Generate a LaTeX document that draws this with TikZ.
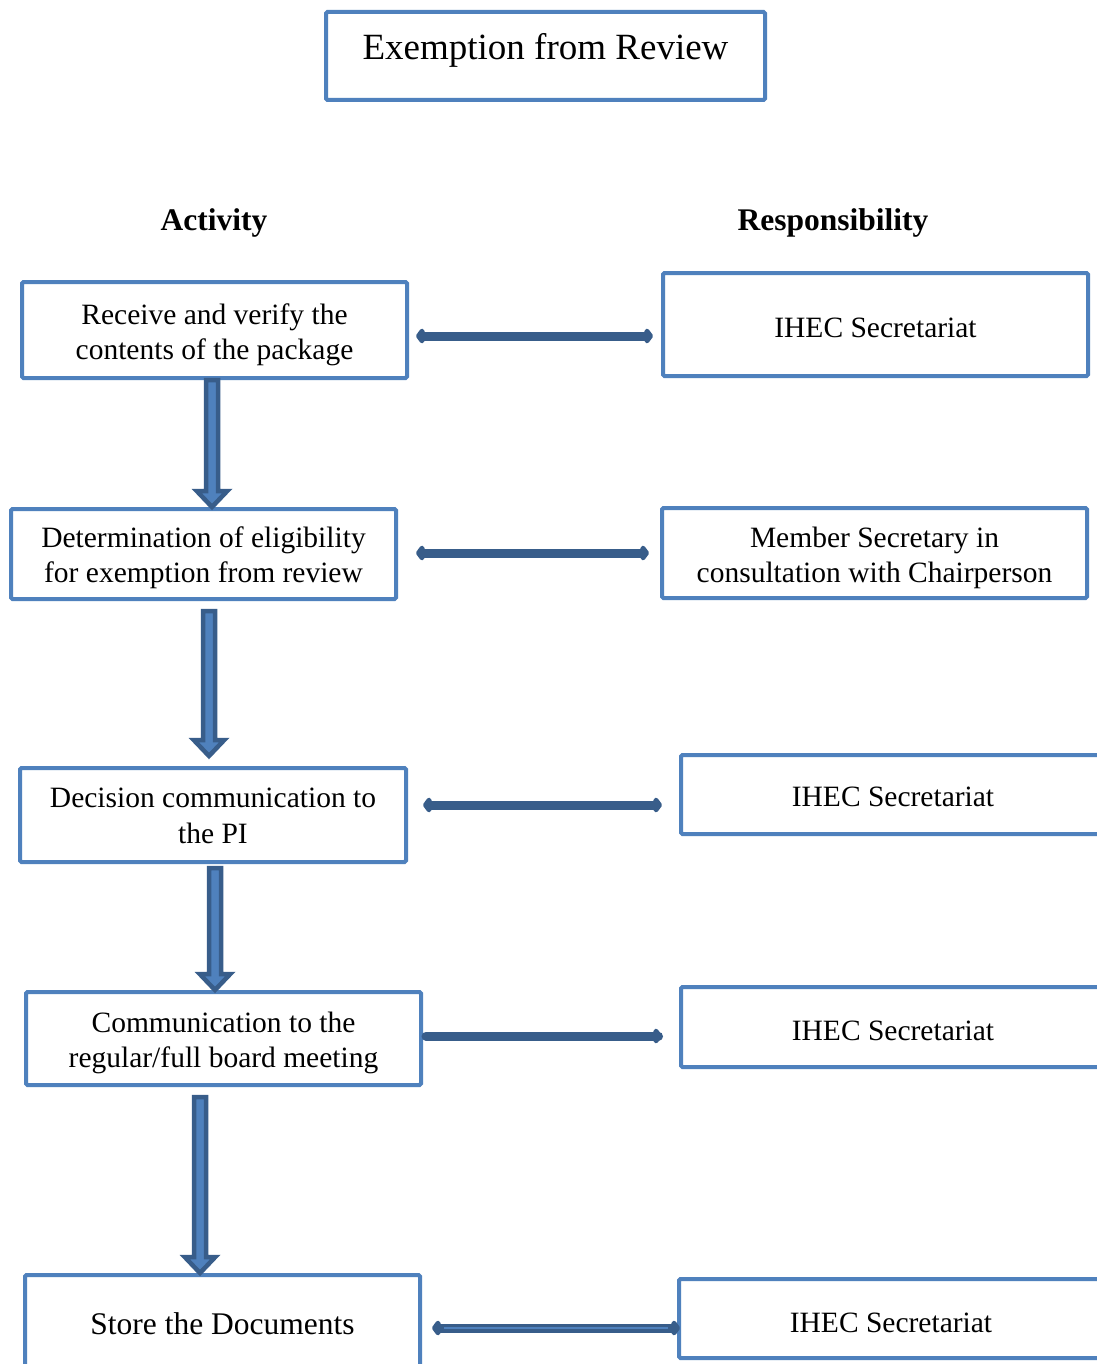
\documentclass[tikz,border=0pt]{standalone}
\usepackage{fontspec}
\setmainfont{Liberation Serif}
\usetikzlibrary{arrows.meta,calc}

\definecolor{boxblue}{HTML}{4F81BD}
\definecolor{arrowblue}{HTML}{385D8A}

\begin{document}
\begin{tikzpicture}[x=1pt,y=-1pt,
  box/.style={draw=boxblue, line width=4pt, rounded corners=1.5pt, fill=white, inner sep=0pt},
  txt/.style={align=center, inner sep=0pt, font=\fontsize{29.5}{35.4}\selectfont},
  titlebox/.style={box, minimum width=439pt, minimum height=88pt},
  heading/.style={font=\bfseries\fontsize{31.5}{38}\selectfont},
  tip/.tip={Kite[length=11pt,width=19pt,inset=4pt,round]},
  link/.style={draw=arrowblue, line width=9pt},
  blockdown/.style={draw=arrowblue, fill=boxblue, line width=4.5pt, line join=miter,
    to path={let \p1=(\tikztostart), \p2=(\tikztotarget) in
      (\x1-6pt,\y1) -- (\x1-6pt,\y2+16pt) -- (\x1-15.25pt,\y2+16pt) -- (\x1,\y2)
      -- (\x1+15.25pt,\y2+16pt) -- (\x1+6pt,\y2+16pt) -- (\x1+6pt,\y1) -- cycle}}
]
\useasboundingbox[fill=white] (0,0) rectangle (1096,1364);

% title
\node[titlebox, label={[font=\fontsize{37}{44}\selectfont, yshift=6pt]center:Exemption from Review}]
  (title) at (545.5,56) {};

% column headings
\node[heading] (hact) at (214,223) {Activity};
\node[heading] (hres) at (833,223) {Responsibility};

% activities
\node[box, minimum width=385pt, minimum height=96pt,
  label={[txt, yshift=-4.5pt]center:{Receive and verify the\\contents of the package}}]
  (a1) at (214.5,330) {};
\node[box, minimum width=385pt, minimum height=90pt,
  label={[txt, yshift=-4pt]center:{Determination of eligibility\\for exemption from review}}]
  (a2) at (203.5,554) {};
\node[box, minimum width=386pt, minimum height=94pt,
  label={[txt, yshift=-1pt]center:{Decision communication to\\the PI}}]
  (a3) at (213,815) {};
\node[box, minimum width=395pt, minimum height=93pt,
  label={[txt, yshift=-4.5pt]center:{Communication to the\\regular/full board meeting}}]
  (a4) at (223.5,1038.5) {};
\node[box, minimum width=395pt, minimum height=96pt,
  label={[txt, font=\fontsize{31.5}{38}\selectfont, yshift=-1pt]center:Store the Documents}]
  (a5) at (222.5,1323) {};

% responsibilities
\node[box, minimum width=425pt, minimum height=103pt,
  label={[txt, yshift=-3pt]center:IHEC Secretariat}] (r1) at (875.5,324.5) {};
\node[box, minimum width=425pt, minimum height=90pt,
  label={[txt, yshift=-5pt]center:{Member Secretary in\\consultation with Chairperson}}]
  (r2) at (874.5,553) {};
\node[box, minimum width=424pt, minimum height=79pt,
  label={[txt, yshift=-2pt]center:IHEC Secretariat}] (r3) at (893,794.5) {};
\node[box, minimum width=424pt, minimum height=80pt,
  label={[txt, yshift=-4pt]center:IHEC Secretariat}] (r4) at (893,1027) {};
\node[box, minimum width=424pt, minimum height=79pt,
  label={[txt, yshift=-4pt]center:IHEC Secretariat}] (r5) at (891,1318.5) {};

% flow between activities
\path[blockdown] ([xshift=-2.5pt]a1.south) to ([xshift=-2.5pt]a2.north);
\path[blockdown] ([xshift=5.5pt,yshift=-10pt]a2.south) to ([xshift=5.5pt,yshift=10pt]a3.north);
\path[blockdown] ([xshift=2pt,yshift=-4pt]a3.south) to ([xshift=2pt]a4.north);
\path[blockdown] ([xshift=-23.5pt,yshift=-10pt]a4.south) to ([xshift=-23.5pt]a5.north);

% activity <-> responsibility links
\draw[link, tip-tip] ([xshift=7pt,yshift=-6pt]a1.east) -- ([xshift=-8pt,yshift=-11.5pt]r1.west);
\draw[link, tip-tip] ([xshift=18pt,yshift=1pt]a2.east) -- ([xshift=-11pt]r2.west);
\draw[link, tip-tip] ([xshift=15pt,yshift=10pt]a3.east) -- ([xshift=-17pt,yshift=-10.5pt]r3.west);
\draw[link, line cap=round, -tip] ([xshift=3pt,yshift=2.5pt]a4.east) -- ([xshift=-17pt,yshift=-9pt]r4.west);
\draw[link, tip-tip] ([xshift=10pt,yshift=-5pt]a5.east) -- ([xshift=3pt,yshift=-9.5pt]r5.west);
\draw[boxblue, line width=2pt, shorten <=12pt, shorten >=12pt]
  ([xshift=10pt,yshift=-5pt]a5.east) -- ([xshift=3pt,yshift=-9.5pt]r5.west);
\end{tikzpicture}
\end{document}
